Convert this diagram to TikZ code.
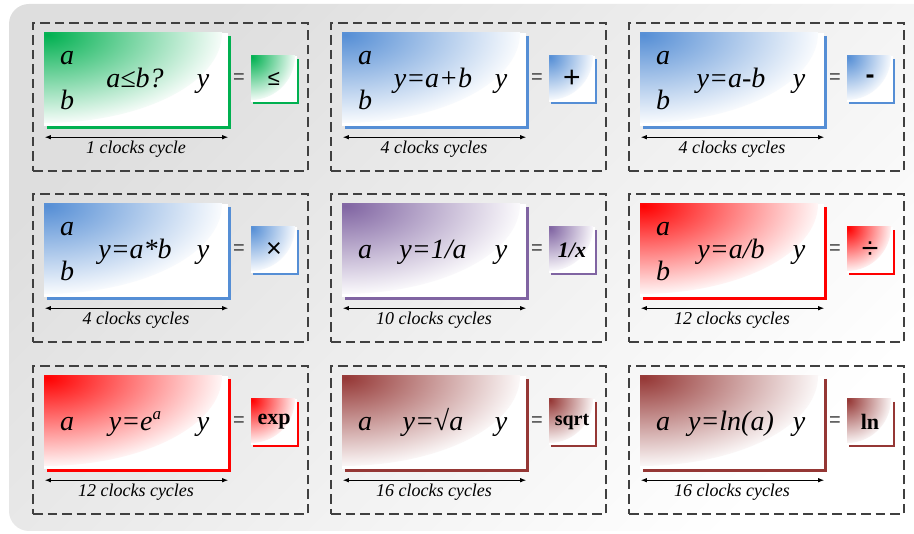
\documentclass[tikz,border=0pt]{standalone}
\usepackage{fontspec}
\setmainfont{Liberation Serif}
\setsansfont{Liberation Sans}
\usetikzlibrary{positioning, arrows.meta}
\definecolor{opgreen}{HTML}{00B050}
\definecolor{opblue}{HTML}{558ED5}
\definecolor{oppurple}{HTML}{8064A2}
\definecolor{opred}{HTML}{FF0000}
\definecolor{opbrown}{HTML}{953735}
\definecolor{framegray}{HTML}{404040}

\tikzset{
  cellframe/.style={draw=framegray, line width=1.4pt, dash pattern=on 9.5pt off 5pt,
    minimum width=275pt, minimum height=148pt, inner sep=0pt},
  unitbox/.style={minimum width=184pt, minimum height=93pt, inner sep=0pt, fill=white,
    path picture={\shade[inner color=#1, outer color=white]
      (path picture bounding box.north west) ellipse [x radius=178pt, y radius=90pt];}},
  opbox/.style={minimum size=46pt, inner sep=0pt, fill=white, font=\fontsize{22}{24}\selectfont,
    path picture={\shade[inner color=#1, outer color=white]
      (path picture bounding box.north west) ellipse [x radius=44pt, y radius=44pt];}},
  rim/.style={draw=#1, line width=2.5pt},
  sig/.style={font=\fontsize{28}{32}\selectfont\itshape, anchor=base, inner sep=0pt},
  cyc/.style={font=\fontsize{18}{20}\selectfont\itshape, anchor=base, inner sep=0pt},
  eqsign/.style={font=\sffamily\fontsize{20}{22}\selectfont, text=framegray, inner sep=0pt},
  dimline/.style={{Latex[length=6pt,width=4.5pt]}-{Latex[length=6pt,width=4.5pt]}, line width=0.9pt},
}

% #1 name, #2/#3 top left corner, #4 colour, #5 inputs, #6 formula, #7 symbol, #8 cycles
\newcommand{\opcell}[8]{%
  \begin{scope}[shift={(#2,#3)}]
    \node[cellframe] (#1-frame) at (137.5,74) {};
    \node[unitbox=#4] (#1-unit) at (103,56.5) {};
    \draw[rim=#4] ([xshift=1.3pt,yshift=-3pt]#1-unit.north east) |- ([xshift=3pt,yshift=-1.3pt]#1-unit.south west);
    \ifnum#5=2\relax
      \node[sig] (#1-a) at (34,42) {a};
      \node[sig] (#1-b) at (34,87) {b};
    \else
      \node[sig] (#1-a) at (34,65) {a};
    \fi
    \node[sig] (#1-f) at (102,65) {#6};
    \node[sig] (#1-y) at (170,65) {y};
    \node[eqsign] (#1-eq) at (206,56) {=};
    \node[opbox=#4] (#1-op) at (241,56) {#7};
    \draw[rim=#4, line width=2pt] ([xshift=1pt,yshift=-3pt]#1-op.north east) |- ([xshift=2pt,yshift=-1pt]#1-op.south west);
    \draw[dimline] ([xshift=1pt,yshift=-11pt]#1-unit.south west) -- ([yshift=-11pt]#1-unit.south east);
    \node[cyc] (#1-c) at (103,131) {#8};
  \end{scope}}

\begin{document}
\begin{tikzpicture}[x=1pt, y=-1pt]
  \clip (0,0) rectangle (914,534);
  % background
  \shade[top color=black!13, bottom color=white, shading angle=45, rounded corners=20pt]
    (9,4) rectangle (940,531);
  % first row
  \opcell{le}{33}{23}{opgreen}{2}{a≤b?}{\sffamily ≤}{1 clocks cycle}
  \opcell{add}{331}{23}{opblue}{2}{y=a+b}{\sffamily\fontsize{30}{30}\selectfont +}{4 clocks cycles}
  \opcell{sub}{629}{23}{opblue}{2}{y=a-b}{\sffamily\bfseries\fontsize{27}{27}\selectfont -}{4 clocks cycles}
  % second row
  \opcell{mul}{33}{194}{opblue}{2}{y=a*b}{\sffamily\fontsize{27}{27}\selectfont ×}{4 clocks cycles}
  \opcell{inv}{331}{194}{oppurple}{1}{y=1/a}{\bfseries\itshape 1/x}{10 clocks cycles}
  \opcell{div}{629}{194}{opred}{2}{y=a/b}{\sffamily\fontsize{30}{30}\selectfont ÷}{12 clocks cycles}
  % third row
  \opcell{exp}{33}{366}{opred}{1}{y=e\raisebox{0.42em}{\fontsize{17}{17}\selectfont a}}{\bfseries exp}{12 clocks cycles}
  \opcell{sqrt}{331}{366}{opbrown}{1}{y=√a}{\bfseries\fontsize{20}{22}\selectfont sqrt}{16 clocks cycles}
  \opcell{ln}{629}{366}{opbrown}{1}{y=ln(a)}{\bfseries ln}{16 clocks cycles}
\end{tikzpicture}
\end{document}
